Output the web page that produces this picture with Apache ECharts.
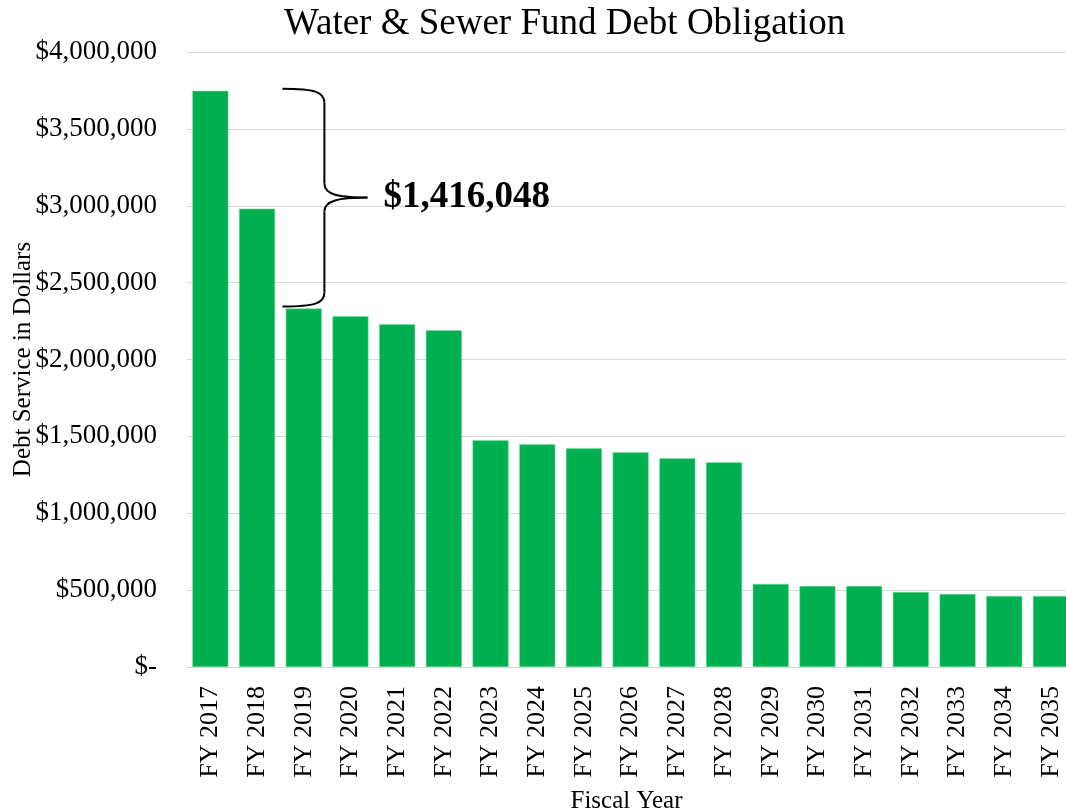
<!DOCTYPE html>
<html>
<head>
<meta charset="utf-8">
<title>Water &amp; Sewer Fund Debt Obligation</title>
<script src="https://cdn.jsdelivr.net/npm/echarts@6/dist/echarts.min.js"></script>
<style>
  html, body { margin: 0; padding: 0; background: #ffffff; }
  #chart { width: 1066px; height: 812px; }
</style>
</head>
<body>
<div id="chart"></div>
<script>
// Fiscal years along the horizontal axis
const fiscalYears = [
  'FY 2017', 'FY 2018', 'FY 2019', 'FY 2020', 'FY 2021', 'FY 2022', 'FY 2023',
  'FY 2024', 'FY 2025', 'FY 2026', 'FY 2027', 'FY 2028', 'FY 2029', 'FY 2030',
  'FY 2031', 'FY 2032', 'FY 2033', 'FY 2034', 'FY 2035'
];

// Annual debt service, dollars
const debtService = [
  3748000, 2981000, 2331952, 2281000, 2229000, 2190000, 1474000,
  1448000, 1422000, 1396000, 1357000, 1331000, 540000, 527000,
  527000, 488000, 475000, 462000, 462000
];

// Value-axis range
const yMin = 0;
const yMax = 4000000;
const yStep = 500000;

// The brace spans the drop from the first year to the third year
const braceFrom = 0;
const braceTo = 2;

const serif = '"Liberation Serif", "Times New Roman", Times, serif';
const green = '#00B050';
const gridGray = '#d9d9d9';

// Plot geometry: each year occupies one slot; the plot runs past the right edge
const plotLeft = 187;
const slotWidth = 46.7;
const plotWidth = 1066 - plotLeft;
const xMin = -0.5;
const xMax = xMin + plotWidth / slotWidth;

function dollars(v) {
  if (v === 0) return '$-';
  return '$' + Math.round(v).toString().replace(/\B(?=(\d{3})+(?!\d))/g, ',');
}

const barData = debtService.map((v, i) => [i, v]);

const chart = echarts.init(document.getElementById('chart'), null, { renderer: 'canvas' });

chart.setOption({
  backgroundColor: '#ffffff',
  animation: false,
  title: {
    text: 'Water & Sewer Fund Debt Obligation',
    left: 279,
    top: 1,
    textStyle: { fontFamily: serif, fontSize: 37, fontWeight: 'normal', color: '#000000' }
  },
  grid: {
    left: plotLeft,
    top: 52,
    width: plotWidth,
    height: 615,
    containLabel: false,
    outerBoundsMode: 'none'
  },
  xAxis: {
    type: 'value',
    min: xMin,
    max: xMax,
    interval: 0.5,
    splitLine: { show: false },
    axisLine: { show: true, lineStyle: { color: gridGray, width: 1 } },
    axisTick: { show: false },
    axisLabel: {
      rotate: 90,
      margin: 19,
      showMinLabel: true,
      showMaxLabel: true,
      fontFamily: serif,
      fontSize: 26,
      color: '#000000',
      formatter: function (v) {
        const r = Math.round(v);
        return Math.abs(v - r) < 1e-6 && fiscalYears[r] ? fiscalYears[r] : '';
      }
    },
    name: 'Fiscal Year',
    nameLocation: 'middle',
    nameGap: 122,
    nameMoveOverlap: false,
    nameTextStyle: { fontFamily: serif, fontSize: 25, color: '#000000' }
  },
  yAxis: {
    type: 'value',
    min: yMin,
    max: yMax,
    interval: yStep,
    axisLine: { show: false },
    axisTick: { show: false },
    splitLine: { show: true, lineStyle: { color: gridGray, width: 1 } },
    axisLabel: {
      margin: 30,
      fontFamily: serif,
      fontSize: 27,
      color: '#000000',
      formatter: dollars
    },
    name: 'Debt Service in Dollars',
    nameLocation: 'middle',
    nameRotate: 90,
    nameGap: 151,
    nameMoveOverlap: false,
    nameTextStyle: { fontFamily: serif, fontSize: 25, color: '#000000' }
  },
  series: [{
    type: 'bar',
    data: barData,
    barWidth: 36,
    itemStyle: { color: green, borderColor: '#7fdca6', borderWidth: 0.5 }
  }]
});

// Curly brace + difference label, positioned from the data values
function drawBrace() {
  const px = (x, y) => chart.convertToPixel({ gridIndex: 0 }, [x, y]);
  const yTop = px(0, debtService[braceFrom])[1] - 2;
  const yBot = px(0, debtService[braceTo])[1] - 2;
  const L = px(braceFrom + 1.5, 0)[0] + 2;
  const M = L + 42;
  const T = L + 85;
  const yMid = (yTop + yBot) / 2;
  const r = 14;
  const stroke = { fill: null, stroke: '#000000', lineWidth: 2 };
  const curve = (x1, y1, c1x, c1y, c2x, c2y, x2, y2) => ({
    type: 'bezierCurve',
    shape: { x1: x1, y1: y1, cpx1: c1x, cpy1: c1y, cpx2: c2x, cpy2: c2y, x2: x2, y2: y2 },
    style: stroke,
    z: 10
  });
  const line = (x1, y1, x2, y2) => ({
    type: 'line',
    shape: { x1: x1, y1: y1, x2: x2, y2: y2 },
    style: stroke,
    z: 10
  });
  const diff = debtService[braceFrom] - debtService[braceTo];
  chart.setOption({
    graphic: [
      curve(L, yTop, L + 32, yTop, M, yTop + 3, M, yTop + r),
      line(M, yTop + r, M, yMid - r),
      curve(M, yMid - r, M, yMid - 3, M + 14, yMid, T, yMid),
      curve(T, yMid, M + 14, yMid, M, yMid + 3, M, yMid + r),
      line(M, yMid + r, M, yBot - r),
      curve(M, yBot - r, M, yBot - 3, L + 32, yBot, L, yBot),
      {
        type: 'text',
        x: T + 16,
        y: yMid,
        style: {
          text: dollars(diff),
          fontFamily: serif,
          fontSize: 37,
          fontWeight: 'bold',
          fill: '#000000',
          verticalAlign: 'middle',
          align: 'left'
        },
        z: 10
      }
    ]
  });
}
drawBrace();
</script>
</body>
</html>
